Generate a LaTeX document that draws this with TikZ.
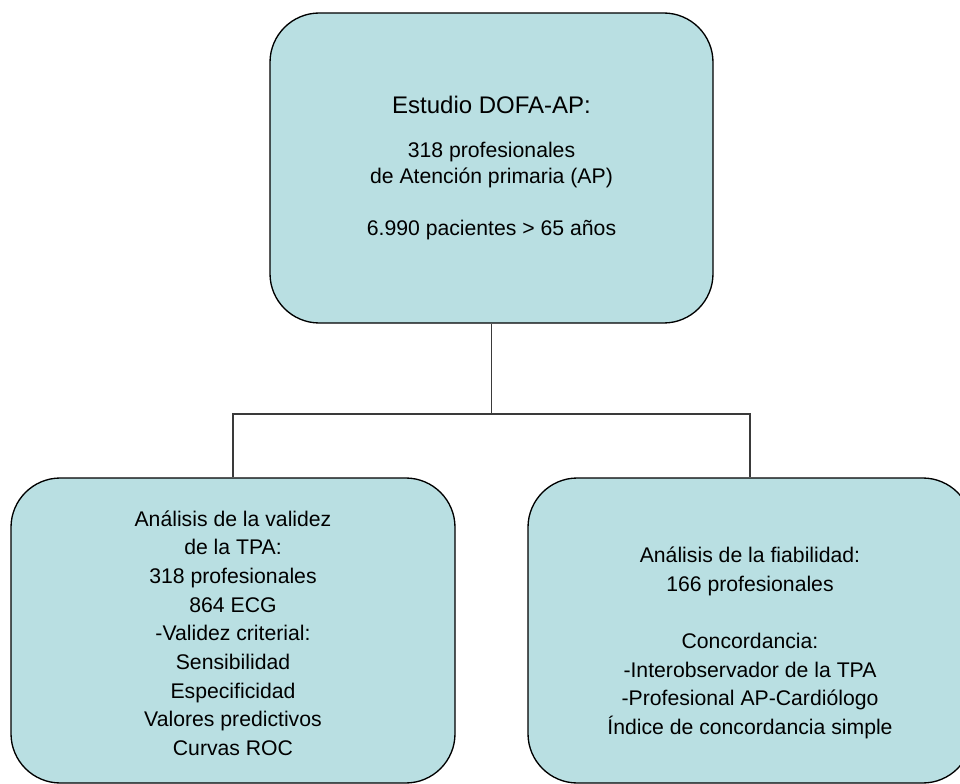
\documentclass[tikz,border=0pt]{standalone}
\usepackage{fontspec}
\setmainfont{Liberation Sans}
\definecolor{boxfill}{HTML}{B9DFE2}
\definecolor{linegray}{HTML}{3A3A3A}
\begin{document}
\begin{tikzpicture}[x=0.75pt,y=-0.75pt,
  box/.style={draw=black,line width=1pt,fill=boxfill,rounded corners=37pt,inner sep=0pt},
  txt/.style={align=center,inner sep=0pt,font=\fontsize{15.9}{21.5}\selectfont},
  conn/.style={draw=linegray,line width=0.9pt}]
\useasboundingbox (0,0) rectangle (960,784);
\clip (0,0) rectangle (960,784);
% boxes
\node[box,minimum width=332.25pt,minimum height=232.5pt] (top) at (491.5,168) {};
\node[box,minimum width=333pt,minimum height=228.75pt] (left) at (233,630.5) {};
\node[box,minimum width=333pt,minimum height=228.75pt] (right) at (750,630.5) {};
% texts
\node[txt,font=\fontsize{15.9}{19.5}\selectfont] (toptext) at (491.5,168)
  {{\fontsize{18}{19.5}\selectfont Estudio DOFA-AP:}\\[13.5pt]
   318 profesionales\\
   de Atención primaria (AP)\\[19.5pt]
   6.990 pacientes > 65 años};
\node[txt] (lefttext) at (233,633)
  {Análisis de la validez\\
   de la TPA:\\
   318 profesionales\\
   864 ECG\\
   -Validez criterial:\\
   Sensibilidad\\
   Especificidad\\
   Valores predictivos\\
   Curvas ROC};
\node[txt] (righttext) at (750,643)
  {Análisis de la fiabilidad:\\
   166 profesionales\\[21.5pt]
   Concordancia:\\
   -Interobservador de la TPA\\
   -Profesional AP-Cardiólogo\\
   Índice de concordancia simple};
% connectors
\coordinate (j) at (491.5,414);
\draw[conn] (top.south) -- (j);
\draw[conn] (left.north) |- (j) -| (right.north);
\end{tikzpicture}
\end{document}
